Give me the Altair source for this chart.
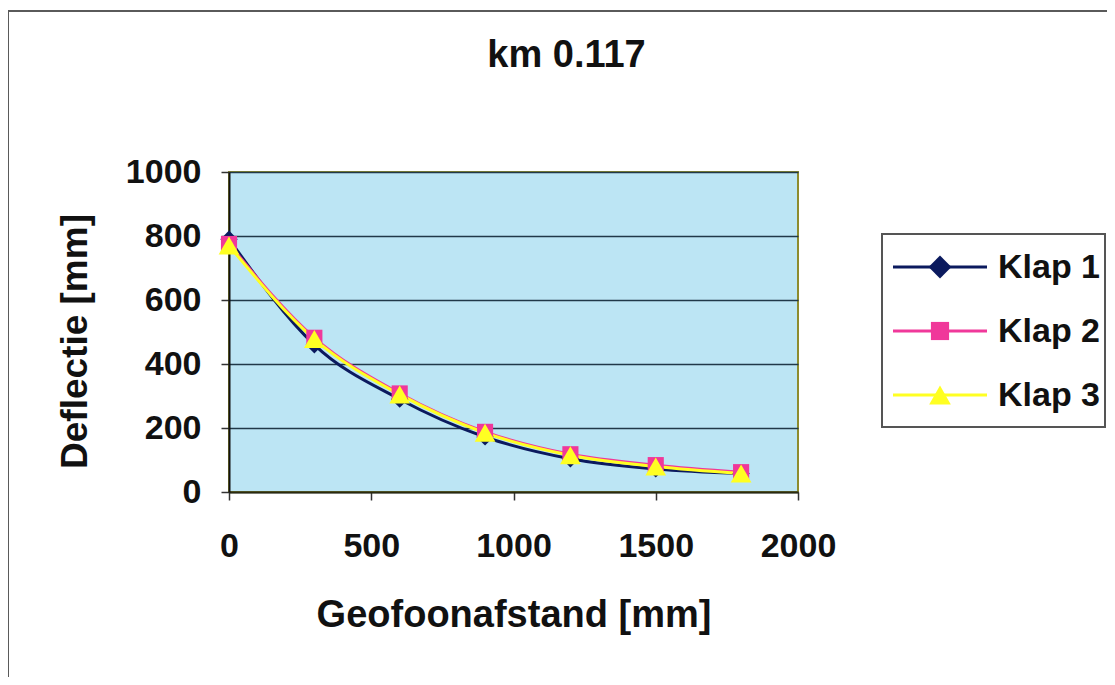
import altair as alt
import pandas as pd

# ---- data ----
geofoon_mm = [0, 300, 600, 900, 1200, 1500, 1800]
klap1 = [790, 460, 290, 172, 104, 72, 58]
klap2 = [775, 482, 308, 188, 118, 84, 62]
klap3 = [770, 478, 305, 185, 115, 80, 58]
series_names = ["Klap 1", "Klap 2", "Klap 3"]
series_colors = ["#0b1a5e", "#f0389a", "#ffff22"]
marker_shapes = ["diamond", "square", "triangle-up"]
marker_sizes = [300, 260, 430]
legend_marker_sizes = [520, 330, 470]
x_ticks = [0, 500, 1000, 1500, 2000]
y_ticks = [0, 200, 400, 600, 800, 1000]

rows = []
for name, vals in zip(series_names, [klap1, klap2, klap3]):
    for x, y in zip(geofoon_mm, vals):
        rows.append({"Geofoonafstand": x, "Deflectie": y, "Serie": name})
df = pd.DataFrame(rows)

FONT = "Liberation Sans"

x_enc = alt.X("Geofoonafstand:Q",
              scale=alt.Scale(domain=[0, 2000], nice=False),
              axis=alt.Axis(values=x_ticks, format="d", title="Geofoonafstand [mm]", grid=False,
                            labelFontSize=34, labelFont=FONT, labelFontWeight="bold",
                            labelColor="#111", labelPadding=29, labelFlush=False,
                            labelOverlap=False, tickSize=8,
                            tickColor="#333", tickWidth=1.5, domainColor="#2a2a10",
                            domainWidth=2, titleFontSize=38, titleFont=FONT,
                            titleFontWeight="bold", titleColor="#111", titlePadding=33))
y_enc = alt.Y("Deflectie:Q",
              scale=alt.Scale(domain=[0, 1000], nice=False),
              axis=alt.Axis(values=y_ticks, format="d", title="Deflectie [mm]", grid=True,
                            gridColor="#203848", gridWidth=1.5,
                            labelFontSize=34, labelFont=FONT, labelFontWeight="bold",
                            labelColor="#111", labelPadding=20, labelFlush=False,
                            labelOverlap=False, tickSize=8,
                            tickColor="#333", tickWidth=1.5, domainColor="#111",
                            domainWidth=2, titleFontSize=37, titleFont=FONT,
                            titleFontWeight="bold", titleColor="#111", titlePadding=31,
                            titleY=169))

color_scale = alt.Scale(domain=series_names, range=series_colors)

one_row = alt.Data(values=[{"f": 1}])

# outer chart-area frame
frame = alt.Chart(one_row).mark_rect(
    fill="white", fillOpacity=0, stroke="#5a5a5a", strokeWidth=2
).encode(x=alt.value(-221), x2=alt.value(1000), y=alt.value(-161), y2=alt.value(700))

lines = alt.Chart(df).mark_line(interpolate="monotone", strokeWidth=3).encode(
    x=x_enc, y=y_enc,
    color=alt.Color("Serie:N", scale=color_scale, legend=None),
)

point_layers = []
for name, shp, sz in zip(series_names, marker_shapes, marker_sizes):
    point_layers.append(
        alt.Chart(df).transform_filter(alt.datum.Serie == name)
        .mark_point(filled=True, opacity=1, shape=shp, size=sz)
        .encode(x="Geofoonafstand:Q", y="Deflectie:Q",
                color=alt.Color("Serie:N", scale=color_scale, legend=None))
    )

# ---- legend box (Excel-style, to the right of the plot) ----
LEG_X0, LEG_X1, LEG_Y0, LEG_Y1 = 653, 876, 62, 255
ROW_Y0, ROW_STEP = 95, 64
legend_layers = [
    alt.Chart(one_row).mark_rect(fill="white", stroke="#555", strokeWidth=2).encode(
        x=alt.value(LEG_X0), x2=alt.value(LEG_X1), y=alt.value(LEG_Y0), y2=alt.value(LEG_Y1))
]
for i, (name, col, shp, sz) in enumerate(zip(series_names, series_colors,
                                              marker_shapes, legend_marker_sizes)):
    yy = ROW_Y0 + ROW_STEP * i
    entry = alt.Data(values=[{"Serie": name}])
    legend_layers.append(
        alt.Chart(entry).mark_rule(strokeWidth=3, color=col).encode(
            x=alt.value(664), x2=alt.value(758), y=alt.value(yy)))
    legend_layers.append(
        alt.Chart(entry).mark_point(filled=True, opacity=1, shape=shp, size=sz,
                                    color=col).encode(
            x=alt.value(711), y=alt.value(yy)))
    legend_layers.append(
        alt.Chart(entry).mark_text(align="left", baseline="middle", font=FONT,
                                   fontSize=34, fontWeight="bold", color="#111").encode(
            x=alt.value(769), y=alt.value(yy + 1), text="Serie:N"))

chart = alt.layer(frame, lines, *point_layers, *legend_layers).properties(
    width=569, height=320,
    autosize=alt.AutoSizeParams(type="none"),
    padding={"left": 221, "top": 164, "right": 309, "bottom": 185},
    title=alt.TitleParams("km 0.117", fontSize=38, font=FONT, fontWeight="bold",
                          color="#111", anchor="middle", frame="group", dx=53,
                          baseline="alphabetic", offset=-95),
    background="white",
).configure_view(
    fill="#bce5f4", stroke="#8d8b2e", strokeWidth=2
)

chart.save("out.html", embed_options={"renderer": "svg", "actions": False})
